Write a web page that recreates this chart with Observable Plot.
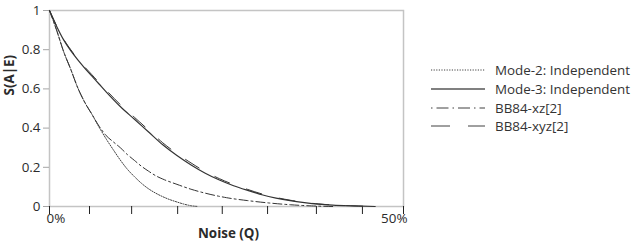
<!DOCTYPE html>
<html><head><meta charset="utf-8">
<script src="https://cdn.jsdelivr.net/npm/d3@7"></script>
<script src="https://cdn.jsdelivr.net/npm/@observablehq/plot@0.6"></script>
<style>
body{margin:0;background:#fff;font-family:"Open Sans",sans-serif;}
#wrap{position:relative;width:636px;height:251px;}
#legend{position:absolute;left:431px;top:61px;font-size:13.4px;color:#333;font-family:"Open Sans",sans-serif;}
.row{display:flex;align-items:center;height:18.7px;white-space:nowrap;}
.row svg{width:54px;height:4px;margin-right:10px;flex:none;}
</style></head><body><div id="wrap"><div id="legend"></div></div>
<script>
// Series names
const seriesNames = ["Mode-2: Independent", "Mode-3: Independent", "BB84-xz[2]", "BB84-xyz[2]"];

// Noise values (%) and S(A|E) values
const mode2Q = [0, 1, 2, 3, 4, 5, 6, 7, 8, 9, 10, 11, 12, 13, 14, 15, 16, 17, 18, 19, 20, 21];
const mode2S = [1, 0.9, 0.79, 0.70, 0.605, 0.53, 0.47, 0.405, 0.345, 0.29, 0.237, 0.19, 0.152, 0.118, 0.09, 0.068, 0.05, 0.035, 0.023, 0.012, 0.004, 0];

const mode3Q = [0, 1, 2, 3, 4, 5, 6, 7, 8, 10, 12, 14, 16, 18, 20, 22, 24, 26, 28, 30, 32, 34, 36, 38, 40, 43, 46];
const mode3S = [1, 0.92, 0.85, 0.795, 0.748, 0.705, 0.665, 0.625, 0.585, 0.51, 0.445, 0.38, 0.315, 0.26, 0.212, 0.17, 0.135, 0.106, 0.082, 0.06, 0.043, 0.03, 0.02, 0.012, 0.007, 0.003, 0];

const xzQ = [0, 1, 2, 3, 4, 5, 6, 7, 8, 9, 10, 11, 12, 13, 14, 15, 16, 18, 20, 22, 25, 28, 31, 34, 37, 40];
const xzS = [1, 0.9, 0.79, 0.70, 0.605, 0.53, 0.47, 0.41, 0.362, 0.33, 0.30, 0.265, 0.235, 0.205, 0.18, 0.157, 0.14, 0.113, 0.088, 0.068, 0.045, 0.03, 0.018, 0.009, 0.003, 0];

const xyzQ = [0, 1, 2, 3, 4, 6, 8, 10, 12, 14, 16, 18, 20, 22, 24, 26, 28, 30, 32, 34, 36, 38, 40, 43, 46];
const xyzS = [1, 0.922, 0.853, 0.8, 0.752, 0.672, 0.594, 0.52, 0.455, 0.39, 0.325, 0.27, 0.222, 0.178, 0.142, 0.112, 0.087, 0.064, 0.046, 0.032, 0.021, 0.013, 0.008, 0.003, 0];

// Axis ticks
const xTicks = [0, 5.65, 11.6, 18.1, 24.4, 30.8, 37.7, 44.2, 50];
const xTickLabels = ["0%", "50%"];
const yTicks = [0, 0.2, 0.4, 0.6, 0.8, 1];

const dashes = ["1.2,1.4", null, "9,3,2,3", "16,18"];
const widths = [1, 1.2, 1, 1];
const colors = ["#404040", "#333333", "#333333", "#333333"];
const textColor = "#2b2b2b";
const fs = 13.4;

const series = [[mode2Q, mode2S], [mode3Q, mode3S], [xzQ, xzS], [xyzQ, xyzS]];
const data = series.map(([q, s], i) => q.map((v, j) => ({name: seriesNames[i], q: v, s: s[j]})));

const lineMarks = data.map((d, i) => Plot.line(d, {
  x: "q", y: "s", stroke: colors[i], strokeWidth: widths[i],
  strokeDasharray: dashes[i] ?? undefined, curve: "monotone-x"
}));

const chart = Plot.plot({
  width: 636, height: 251,
  marginLeft: 49, marginRight: 233, marginTop: 10, marginBottom: 45,
  style: {fontFamily: "Open Sans, sans-serif", fontSize: fs + "px", color: textColor, background: "#fff"},
  x: {domain: [0, 50]},
  y: {domain: [0, 1]},
  marks: [
    Plot.frame({stroke: "#c4c4c4", strokeWidth: 1.5}),
    Plot.axisY({ticks: yTicks, tickSize: 6, tickPadding: 3, tickFormat: d => String(d), stroke: "#a6a6a6", fill: textColor, label: null, fontSize: fs}),
    Plot.axisX({ticks: xTicks, tickSize: 8, tickFormat: () => "", stroke: "#222", label: null}),
    Plot.text([0], {x: d => d, frameAnchor: "bottom", dy: 16, textAnchor: "start", dx: -3, text: () => xTickLabels[0], fill: textColor, fontSize: fs}),
    Plot.text([50], {x: d => d, frameAnchor: "bottom", dy: 16, textAnchor: "end", dx: 4, text: () => xTickLabels[1], fill: textColor, fontSize: fs}),
    Plot.text(["Noise (Q)"], {x: 25, frameAnchor: "bottom", dy: 31, dx: 2, text: d => d, fontWeight: "bold", fill: textColor, fontSize: fs}),
    Plot.text(["S(A|E)"], {frameAnchor: "left", dx: -40, dy: -13, rotate: -90, text: d => d, fontWeight: "bold", fill: textColor, fontSize: fs}),
    ...lineMarks
  ]
});
document.getElementById("wrap").prepend(chart);

// Legend
const legend = document.getElementById("legend");
seriesNames.forEach((name, i) => {
  const row = document.createElement("div");
  row.className = "row";
  const dash = dashes[i] ? ` stroke-dasharray="${i === 2 ? "1.5,4,12,4" : i === 3 ? "19,18" : "1.2,1.4"}"` : "";
  row.innerHTML = `<svg viewBox="0 0 54 4"><line x1="0" y1="2" x2="54" y2="2" stroke="${i===1?"#808080":"#404040"}" stroke-width="${i===1?2:1}"${dash}/></svg><span>${name}</span>`;
  legend.appendChild(row);
});
</script>
</body></html>
